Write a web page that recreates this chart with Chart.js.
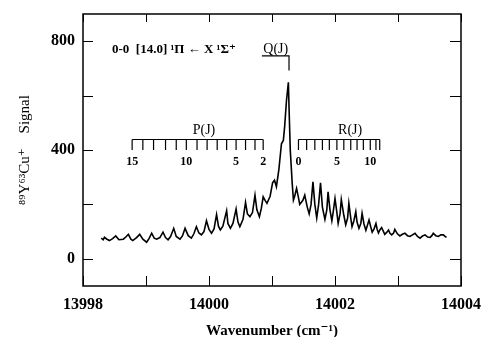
<!DOCTYPE html>
<html>
<head>
<meta charset="utf-8">
<script src="https://cdn.jsdelivr.net/npm/chart.js@4.4.0/dist/chart.umd.min.js"></script>
<style>
html, body { margin: 0; padding: 0; background: #fff; }
</style>
</head>
<body>
<canvas id="spectrumChart" width="481" height="337"></canvas>
<script>
// spectrum trace
const wavenumbers = [
    13998.29, 13998.32, 13998.34, 13998.38, 13998.42, 13998.47, 13998.52, 13998.57, 13998.64, 13998.68,
    13998.72, 13998.76, 13998.79, 13998.85, 13998.90, 13998.95, 13999.01, 13999.05, 13999.09, 13999.13,
    13999.17, 13999.22, 13999.27, 13999.31, 13999.35, 13999.39, 13999.44, 13999.48, 13999.54, 13999.58,
    13999.62, 13999.67, 13999.72, 13999.76, 13999.80, 13999.84, 13999.88, 13999.92, 13999.96, 14000.00,
    14000.04, 14000.08, 14000.12, 14000.15, 14000.18, 14000.22, 14000.28, 14000.30, 14000.34, 14000.38,
    14000.43, 14000.46, 14000.49, 14000.54, 14000.58, 14000.61, 14000.65, 14000.69, 14000.73, 14000.76,
    14000.80, 14000.83, 14000.86, 14000.89, 14000.92, 14000.97, 14001.01, 14001.04, 14001.07, 14001.11,
    14001.15, 14001.18, 14001.20, 14001.23, 14001.26, 14001.27, 14001.29, 14001.32, 14001.34, 14001.36,
    14001.39, 14001.42, 14001.44, 14001.49, 14001.52, 14001.56, 14001.59, 14001.62, 14001.65, 14001.68,
    14001.71, 14001.74, 14001.77, 14001.80, 14001.84, 14001.87, 14001.89, 14001.92, 14001.95, 14001.97,
    14002.00, 14002.03, 14002.05, 14002.08, 14002.10, 14002.14, 14002.17, 14002.20, 14002.22, 14002.25,
    14002.27, 14002.30, 14002.33, 14002.35, 14002.38, 14002.41, 14002.43, 14002.46, 14002.49, 14002.51,
    14002.54, 14002.57, 14002.59, 14002.62, 14002.65, 14002.67, 14002.69, 14002.71, 14002.74, 14002.77,
    14002.79, 14002.82, 14002.85, 14002.87, 14002.90, 14002.93, 14002.95, 14002.99, 14003.03, 14003.07,
    14003.11, 14003.15, 14003.19, 14003.23, 14003.27, 14003.31, 14003.35, 14003.39, 14003.43, 14003.47,
    14003.51, 14003.54, 14003.56, 14003.60, 14003.64, 14003.68, 14003.72, 14003.75, 14003.77
];
const signal = [
    76, 70, 79, 72, 67, 74, 84, 70, 72, 80,
    90, 72, 67, 78, 90, 72, 61, 75, 94, 76,
    72, 78, 98, 78, 70, 82, 112, 82, 72, 85,
    112, 85, 76, 92, 118, 95, 88, 100, 140, 108,
    94, 110, 163, 120, 106, 120, 177, 130, 112, 130,
    183, 135, 118, 145, 207, 165, 155, 170, 234, 180,
    155, 185, 228, 215, 204, 230, 280, 289, 265, 330,
    423, 435, 484, 582, 649, 560, 400, 280, 216, 230,
    259, 225, 200, 215, 234, 190, 165, 200, 283, 200,
    150, 200, 279, 190, 145, 180, 246, 180, 140, 170,
    222, 170, 130, 165, 218, 160, 125, 150, 204, 150,
    118, 140, 173, 135, 112, 130, 167, 128, 105, 120,
    143, 115, 98, 110, 130, 108, 95, 105, 115, 100,
    90, 97, 106, 95, 88, 95, 108, 92, 84, 90,
    94, 85, 82, 88, 94, 82, 76, 84, 88, 80,
    79, 86, 94, 85, 82, 88, 88, 82, 79
];

const xTickValues = [13998, 13999, 14000, 14001, 14002, 14003, 14004];
const xLabelTicks = [13998, 14000, 14002, 14004];
const yTickValues = [0, 200, 400, 600, 800];
const yLabelTicks = [0, 400, 800];

// rotational assignment combs
const pBranchPos = [13998.78, 13998.95, 13999.12, 13999.31, 13999.48, 13999.64, 13999.81,
                    13999.97, 14000.13, 14000.28, 14000.43, 14000.58, 14000.73, 14000.86];
const pBranchJ = [15, 14, 13, 12, 11, 10, 9, 8, 7, 6, 5, 4, 3, 2];
const rBranchPos = [14001.42, 14001.55, 14001.68, 14001.80, 14001.91, 14002.03, 14002.14,
                    14002.25, 14002.35, 14002.45, 14002.56, 14002.65, 14002.71];
const rBranchJ = [0, 1, 2, 3, 4, 5, 6, 7, 8, 9, 10, 11, 12];
const combLabelsP = [15, 10, 5, 2];
const combLabelsR = [0, 5, 10];
const qBranchPos = 14001.27;

const serif = "'Liberation Serif', 'DejaVu Serif', serif";

const annotations = {
    id: 'annotations',
    afterDatasetsDraw(chart) {
        const { ctx, chartArea: area } = chart;
        const xs = chart.scales.x;
        const ys = chart.scales.y;
        ctx.save();
        ctx.strokeStyle = '#000';
        ctx.fillStyle = '#000';

        // frame
        ctx.lineWidth = 1.5;
        ctx.strokeRect(area.left, area.top, area.right - area.left, area.bottom - area.top);

        // inward ticks
        ctx.lineWidth = 1;
        ctx.beginPath();
        xs.ticks.forEach(t => {
            const px = Math.round(xs.getPixelForValue(t.value)) + 0.5;
            ctx.moveTo(px, area.bottom); ctx.lineTo(px, area.bottom - 10);
            ctx.moveTo(px, area.top); ctx.lineTo(px, area.top + 8);
        });
        ys.ticks.forEach(t => {
            const py = Math.round(ys.getPixelForValue(t.value)) + 0.5;
            ctx.moveTo(area.left, py); ctx.lineTo(area.left + 10, py);
            ctx.moveTo(area.right, py); ctx.lineTo(area.right - 11, py);
        });
        ctx.stroke();

        // combs
        const combY = Math.round(ys.getPixelForValue(439)) + 0.5;
        const tickEnd = ys.getPixelForValue(400);
        function drawComb(pos, js, labels, title, titleX) {
            ctx.lineWidth = 1.2;
            ctx.beginPath();
            ctx.moveTo(xs.getPixelForValue(pos[0]), combY);
            ctx.lineTo(xs.getPixelForValue(pos[pos.length - 1]), combY);
            pos.forEach(p => {
                const px = xs.getPixelForValue(p);
                ctx.moveTo(px, combY);
                ctx.lineTo(px, tickEnd);
            });
            ctx.stroke();
            ctx.font = 'bold 12px ' + serif;
            ctx.textAlign = 'center';
            ctx.textBaseline = 'middle';
            labels.forEach(j => {
                const px = xs.getPixelForValue(pos[js.indexOf(j)]);
                ctx.fillText(String(j), px, ys.getPixelForValue(358));
            });
            ctx.font = '14px ' + serif;
            ctx.fillText(title, xs.getPixelForValue(titleX), combY - 9);
        }
        drawComb(pBranchPos, pBranchJ, combLabelsP, 'P(J)', 13999.92);
        drawComb(rBranchPos, rBranchJ, combLabelsR, 'R(J)', 14002.24);

        // Q marker
        const qx = xs.getPixelForValue(qBranchPos);
        const qTop = ys.getPixelForValue(746);
        ctx.lineWidth = 1.2;
        ctx.beginPath();
        ctx.moveTo(xs.getPixelForValue(14000.84), qTop);
        ctx.lineTo(qx, qTop);
        ctx.lineTo(qx, ys.getPixelForValue(692));
        ctx.stroke();
        ctx.font = '14px ' + serif;
        ctx.textAlign = 'center';
        ctx.textBaseline = 'alphabetic';
        ctx.fillText('Q(J)', xs.getPixelForValue(14001.06), qTop - 3);

        // band label
        ctx.font = 'bold 13px ' + serif;
        ctx.textAlign = 'left';
        ctx.fillText('0-0  [14.0] \u00B9\u03A0 \u2190 X \u00B9\u03A3\u207A', xs.getPixelForValue(13998.46), qTop - 3);

        ctx.restore();
    }
};

new Chart(document.getElementById('spectrumChart'), {
    type: 'line',
    data: {
        datasets: [{
            data: wavenumbers.map((w, i) => ({ x: w, y: signal[i] })),
            borderColor: '#000',
            borderWidth: 1.6,
            pointRadius: 0,
            tension: 0,
            fill: false
        }]
    },
    options: {
        responsive: false,
        animation: false,
        layout: { padding: { top: 14, right: 20, left: 0, bottom: 0 } },
        plugins: {
            legend: { display: false },
            tooltip: { enabled: false }
        },
        scales: {
            x: {
                type: 'linear',
                min: 13998,
                max: 14004,
                grid: { display: false, drawTicks: false },
                border: { display: false },
                afterBuildTicks: scale => { scale.ticks = xTickValues.map(v => ({ value: v })); },
                ticks: {
                    maxRotation: 0,
                    autoSkip: false,
                    padding: 9,
                    color: '#000',
                    font: { family: serif, size: 16, weight: 'bold' },
                    callback: v => xLabelTicks.includes(v) ? String(v) : ''
                },
                title: {
                    display: true,
                    text: 'Wavenumber (cm\u207B\u00B9)',
                    color: '#000',
                    font: { family: serif, size: 15, weight: 'bold', lineHeight: 1 },
                    padding: { top: 0, bottom: -2 }
                },
                afterFit: scale => {
                    scale.height = 51;
                    scale.paddingLeft = 0;
                    scale.paddingRight = 0;
                }
            },
            y: {
                min: -100,
                max: 900,
                grid: { display: false, drawTicks: false },
                border: { display: false },
                afterBuildTicks: scale => { scale.ticks = yTickValues.map(v => ({ value: v })); },
                ticks: {
                    padding: 8,
                    color: '#000',
                    font: { family: serif, size: 16, weight: 'bold' },
                    callback: v => yLabelTicks.includes(v) ? String(v) : ''
                },
                title: {
                    display: true,
                    text: '\u2078\u2079Y\u2076\u00B3Cu\u207A    Signal',
                    color: '#000',
                    font: { family: serif, size: 15, lineHeight: 1 },
                    padding: { top: 18, bottom: 0 }
                },
                afterFit: scale => {
                    scale.width = 83;
                    scale.paddingTop = 0;
                    scale.paddingBottom = 0;
                }
            }
        }
    },
    plugins: [annotations]
});
</script>
</body>
</html>
